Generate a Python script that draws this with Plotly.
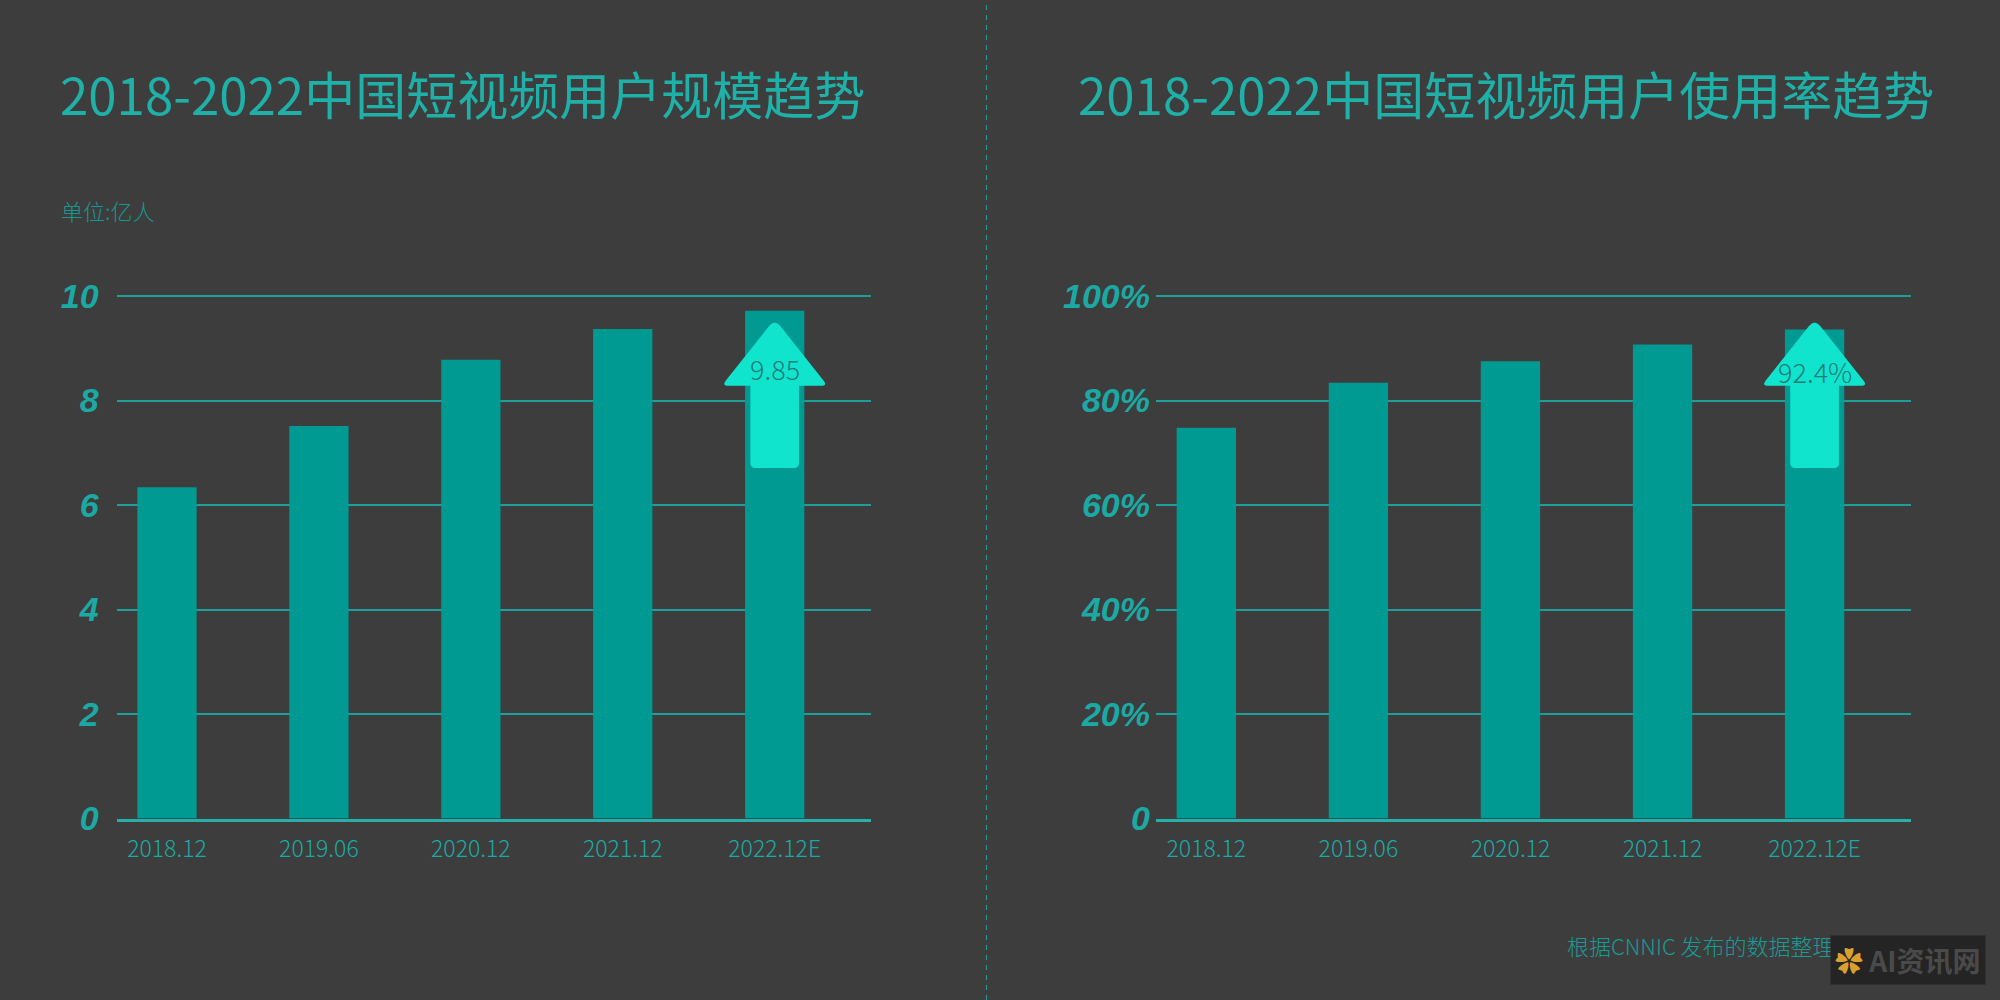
import math
import plotly.graph_objects as go

# ---------------- data ----------------
categories = ["2018.12", "2019.06", "2020.12", "2021.12", "2022.12E"]
users_100m = [6.34, 7.51, 8.78, 9.37, 9.72]          # 单位: 亿人
usage_rate = [74.8, 83.4, 87.5, 90.7, 93.6]          # %
users_label = "9.85"
usage_label = "92.4%"
left_ticks = [0, 2, 4, 6, 8, 10]
left_ticktext = ["0", "2", "4", "6", "8", "10"]
right_ticks = [0, 20, 40, 60, 80, 100]
right_ticktext = ["0", "20%", "40%", "60%", "80%", "100%"]

title_left = "2018-2022中国短视频用户规模趋势"
title_right = "2018-2022中国短视频用户使用率趋势"
unit_text = "单位:亿人"
footer_text = "根据CNNIC 发布的数据整理设计"
watermark_text = "AI资讯网"

# ---------------- style ----------------
W, H = 2000, 1000
BG = "#3d3d3d"
BAR = "#009a93"
GRID = "#1f9f99"
AXIS = "#27b0a9"
TEAL_TXT = "#1ca9a3"
TITLE_C = "#1fb0a8"
ARROW_C = "#10e4cd"
ARROW_TXT = "#1f7d79"
CJK = "Noto Sans CJK SC"

xs = list(range(len(categories)))
x_range = [-0.331, 4.632]
L_dom = [116.7 / W, 870.7 / W]
R_dom = [1156 / W, 1910.7 / W]
y_bottom_px, px_per_unit = 818.5, 52.25      # pixel of 0, pixels per 1 (left) unit
y_pad = 0.04                                  # headroom so the top grid line shows
Y_dom = [(H - y_bottom_px) / H, (H - y_bottom_px + px_per_unit * (10 + y_pad)) / H]

fig = go.Figure()
fig.add_trace(go.Bar(x=xs, y=users_100m, marker=dict(color=BAR, line=dict(width=0)),
                     width=0.39, xaxis="x", yaxis="y", hoverinfo="skip"))
fig.add_trace(go.Bar(x=xs, y=usage_rate, marker=dict(color=BAR, line=dict(width=0)),
                     width=0.39, xaxis="x2", yaxis="y2", hoverinfo="skip"))

xaxis_common = dict(range=x_range, tickmode="array", tickvals=xs, ticktext=categories,
                    showgrid=False, zeroline=False, showline=True, linecolor=AXIS, linewidth=3,
                    ticks="", ticklabelstandoff=8, automargin=False,
                    tickfont=dict(family=CJK, size=23, color=TEAL_TXT, weight=300))
ytick_font = dict(family="Liberation Sans", size=34, color=TEAL_TXT, weight="bold", style="italic")
yaxis_common = dict(domain=Y_dom, showgrid=True, gridcolor=GRID, gridwidth=1.5, zeroline=False,
                    showline=False, ticks="", tickfont=ytick_font, tickmode="array",
                    automargin=False)

fig.update_layout(
    template="none",
    width=W, height=H, margin=dict(l=0, r=0, t=0, b=0, pad=0, autoexpand=False),
    paper_bgcolor=BG, plot_bgcolor=BG, showlegend=False, barmode="overlay",
    xaxis=dict(domain=L_dom, anchor="y", **xaxis_common),
    xaxis2=dict(domain=R_dom, anchor="y2", **xaxis_common),
    yaxis=dict(anchor="x", range=[0, 10 + y_pad], tickvals=left_ticks, ticktext=left_ticktext,
               ticklabelstandoff=17, **yaxis_common),
    yaxis2=dict(anchor="x2", range=[0, 100 + 10 * y_pad], tickvals=right_ticks,
                ticktext=right_ticktext, ticklabelstandoff=5, **yaxis_common),
)

# ---------------- arrows (rounded polygons in data units) ----------------
def rounded_path(pts, radii, sx, sy):
    P = [(x * sx, y * sy) for x, y in pts]
    n = len(P)
    out = []
    for i in range(n):
        vx, vy = P[i]
        px_, py_ = P[i - 1]
        nx, ny = P[(i + 1) % n]
        r = radii[i]

        def toward(bx, by):
            d = math.hypot(bx - vx, by - vy)
            return (vx + (bx - vx) * r / d, vy + (by - vy) * r / d)
        a = toward(px_, py_)
        b = toward(nx, ny)
        cmd = "M" if i == 0 else "L"
        out.append(f"{cmd}{a[0]/sx:.4f},{a[1]/sy:.4f} Q{vx/sx:.4f},{vy/sy:.4f} {b[0]/sx:.4f},{b[1]/sy:.4f}")
    return " ".join(out) + " Z"

ARROW = dict(tip=0.956, base=0.828, bottom=0.671, head_half=0.35, shaft_half=0.16)
px_per_x = (L_dom[1] - L_dom[0]) * W / (x_range[1] - x_range[0])

def arrow_shape(xc, ymax, xref, yref):
    a = ARROW
    pts = [(xc, a["tip"] * ymax),
           (xc + a["head_half"], a["base"] * ymax),
           (xc + a["shaft_half"], a["base"] * ymax),
           (xc + a["shaft_half"], a["bottom"] * ymax),
           (xc - a["shaft_half"], a["bottom"] * ymax),
           (xc - a["shaft_half"], a["base"] * ymax),
           (xc - a["head_half"], a["base"] * ymax)]
    radii = [9, 7, 0.01, 5, 5, 0.01, 7]
    path = rounded_path(pts, radii, px_per_x, px_per_unit * 10 / ymax)
    return dict(type="path", path=path, xref=xref, yref=yref, fillcolor=ARROW_C,
                line=dict(width=0), layer="above")

shapes = [arrow_shape(xs[-1], 10, "x", "y"), arrow_shape(xs[-1], 100, "x2", "y2")]
shapes.append(dict(type="line", xref="paper", yref="paper", x0=986.5 / W, x1=986.5 / W, y0=0, y1=1,
                   line=dict(color="#2a9a95", width=1, dash="5px,5px"), layer="below"))

annotations = [
    dict(text=title_left, xref="paper", yref="paper", x=58 / W, y=1 - 93 / H, xanchor="left",
         yanchor="middle", showarrow=False, font=dict(family=CJK, size=51, color=TITLE_C)),
    dict(text=title_right, xref="paper", yref="paper", x=1076 / W, y=1 - 93 / H, xanchor="left",
         yanchor="middle", showarrow=False, font=dict(family=CJK, size=51, color=TITLE_C)),
    dict(text=unit_text, xref="paper", yref="paper", x=59 / W, y=1 - 210 / H, xanchor="left",
         yanchor="middle", showarrow=False, font=dict(family=CJK, size=22, color="#1a9690", weight=300)),
    dict(text=users_label, xref="x", yref="y", x=xs[-1], y=8.62, showarrow=False,
         font=dict(family=CJK, size=27, color=ARROW_TXT, weight=300)),
    dict(text=usage_label, xref="x2", yref="y2", x=xs[-1], y=85.5, showarrow=False,
         font=dict(family=CJK, size=27, color=ARROW_TXT, weight=300)),
    dict(text=footer_text, xref="paper", yref="paper", x=1565 / W, y=1 - 945 / H, xanchor="left",
         yanchor="middle", showarrow=False, font=dict(family=CJK, size=22, color="#1a9a94", weight=300)),
    # watermark box
    dict(text="<span style='color:#d9a030'>✿</span> " + watermark_text, xref="paper", yref="paper",
         x=1830 / W, y=1 - 960 / H, xanchor="left", yanchor="middle", showarrow=False,
         bgcolor="#242424", borderpad=4,
         font=dict(family=CJK, size=28, color="#4a4a4a", weight="bold")),
]
fig.update_layout(shapes=shapes, annotations=annotations)

fig.write_html("out.html")
